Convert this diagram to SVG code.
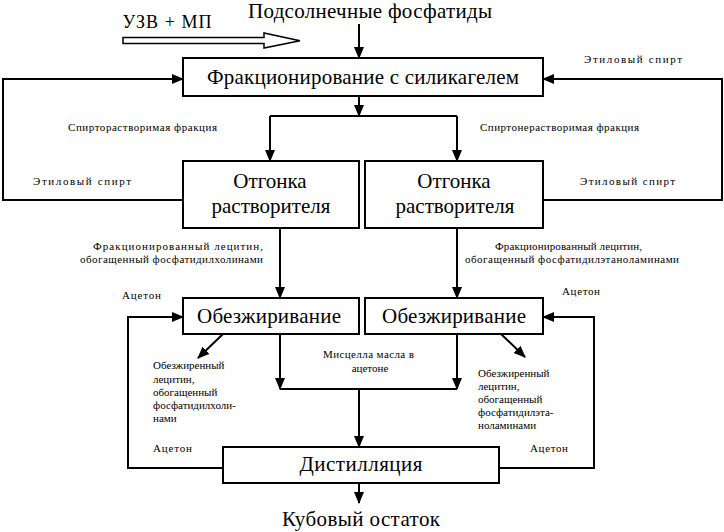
<svg xmlns="http://www.w3.org/2000/svg" width="724" height="532" viewBox="0 0 724 532">
<style>
.box{fill:#fff;stroke:#000;stroke-width:2}
.big{font-family:'Liberation Serif','DejaVu Serif',serif;font-size:21px;fill:#000;text-anchor:middle}
.sm{font-family:'Liberation Serif','DejaVu Serif',serif;font-size:11px;fill:#000}
.mid{text-anchor:middle}
.ln{fill:none;stroke:#000;stroke-width:2}
.arr{marker-end:url(#ah)}
</style>
<defs>
<marker id="ah" markerUnits="userSpaceOnUse" markerWidth="12" markerHeight="12" viewBox="0 0 12 12" refX="11" refY="6" orient="auto">
<path d="M0,1 L12,6 L0,11 z" fill="#000"/>
</marker>
</defs>
<rect width="724" height="532" fill="#fff"/>

<g id="source">
<text class="big" x="370" y="18" font-size="20" textLength="244">Подсолнечные фосфатиды</text>
</g>
<g id="uzv">
<text x="167" y="28" font-family="Liberation Serif, serif" font-size="18" text-anchor="middle" textLength="89">УЗВ + МП</text>
<path d="M123,37.5 H264 V33 L300,40.7 L264,48 V43.5 H123 Z" fill="#fff" stroke="#000" stroke-width="1.5"/>
</g>
<g id="fract">
<rect class="box" x="183" y="58" width="360" height="38"/>
<text class="big" x="363" y="84" textLength="312">Фракционирование с силикагелем</text>
</g>
<g id="otgonka-left">
<rect class="box" x="183" y="161" width="176" height="67"/>
<text class="big" x="270" y="188">Отгонка</text>
<text class="big" x="271" y="213">растворителя</text>
</g>
<g id="otgonka-right">
<rect class="box" x="365" y="161" width="178" height="67"/>
<text class="big" x="454" y="188">Отгонка</text>
<text class="big" x="455" y="213">растворителя</text>
</g>
<g id="obezh-left">
<rect class="box" x="183" y="298" width="176" height="36"/>
<text class="big" x="269" y="323" textLength="144">Обезжиривание</text>
</g>
<g id="obezh-right">
<rect class="box" x="365" y="298" width="178" height="36"/>
<text class="big" x="454" y="323" textLength="144">Обезжиривание</text>
</g>
<g id="distill">
<rect class="box" x="223" y="447" width="276" height="36"/>
<text class="big" x="361" y="471" textLength="123">Дистилляция</text>
</g>
<g id="residue">
<text class="big" x="361" y="526" font-size="20" textLength="158">Кубовый остаток</text>
</g>

<g id="connectors">
<path class="ln arr" d="M359,24 V58"/>
<path class="ln arr" d="M359,96 V116"/>
<path class="ln" d="M270,116 H457"/>
<path class="ln arr" d="M270,116 V161"/>
<path class="ln arr" d="M457,116 V161"/>
<path class="ln arr" d="M183,200 H3 V79 H183"/>
<path class="ln arr" d="M543,200 H722 V79 H543"/>
<path class="ln arr" d="M280,228 V298"/>
<path class="ln arr" d="M457,228 V298"/>
<path class="ln arr" d="M223,468 H128 V317 H183"/>
<path class="ln arr" d="M499,468 H594 V317 H543"/>
<path class="ln arr" d="M223,334 L198,358"/>
<path class="ln arr" d="M501,334 L525,357"/>
<path class="ln arr" d="M280,334 V389"/>
<path class="ln arr" d="M457,334 V389"/>
<path class="ln" d="M280,389 H457"/>
<path class="ln arr" d="M359,389 V447"/>
<path class="ln arr" d="M359,483 V503"/>
</g>

<g id="labels">
<text class="sm mid" x="142.5" y="131" textLength="149">Спирторастворимая фракция</text>
<text class="sm mid" x="559.5" y="131" textLength="159">Спиртонерастворимая фракция</text>
<text class="sm mid" x="633" y="63" font-size="12" textLength="98">Этиловый спирт</text>
<text class="sm mid" x="82" y="185" font-size="12" textLength="98">Этиловый спирт</text>
<text class="sm mid" x="627.5" y="185" font-size="12" textLength="95">Этиловый спирт</text>
<text class="sm mid" x="178" y="250" textLength="170">Фракционированный лецитин,</text>
<text class="sm mid" x="171.5" y="263" textLength="183">обогащенный фосфатидилхолинами</text>
<text class="sm mid" x="568.5" y="250" textLength="147">Фракционированный лецитин,</text>
<text class="sm mid" x="572" y="263" textLength="214">обогащенный фосфатидилэтаноламинами</text>
<text class="sm" x="122" y="299" textLength="39">Ацетон</text>
<text class="sm" x="562" y="295" textLength="38">Ацетон</text>
<text class="sm" x="153" y="452" textLength="39">Ацетон</text>
<text class="sm" x="530" y="452" textLength="38">Ацетон</text>
<text class="sm mid" x="368.5" y="358" textLength="91">Мисцелла масла в</text>
<text class="sm mid" x="370" y="372">ацетоне</text>
<g class="sm" font-size="11.5">
<text x="153" y="369">Обезжиренный</text>
<text x="153" y="383">лецитин,</text>
<text x="153" y="396">обогащенный</text>
<text x="153" y="409">фосфатидилхоли-</text>
<text x="153" y="422">нами</text>
</g>
<g class="sm" font-size="11.5">
<text x="478" y="377">Обезжиренный</text>
<text x="478" y="390">лецитин,</text>
<text x="478" y="403">обогащенный</text>
<text x="478" y="416">фосфатидилэта-</text>
<text x="478" y="429">ноламинами</text>
</g>
</g>
</svg>
